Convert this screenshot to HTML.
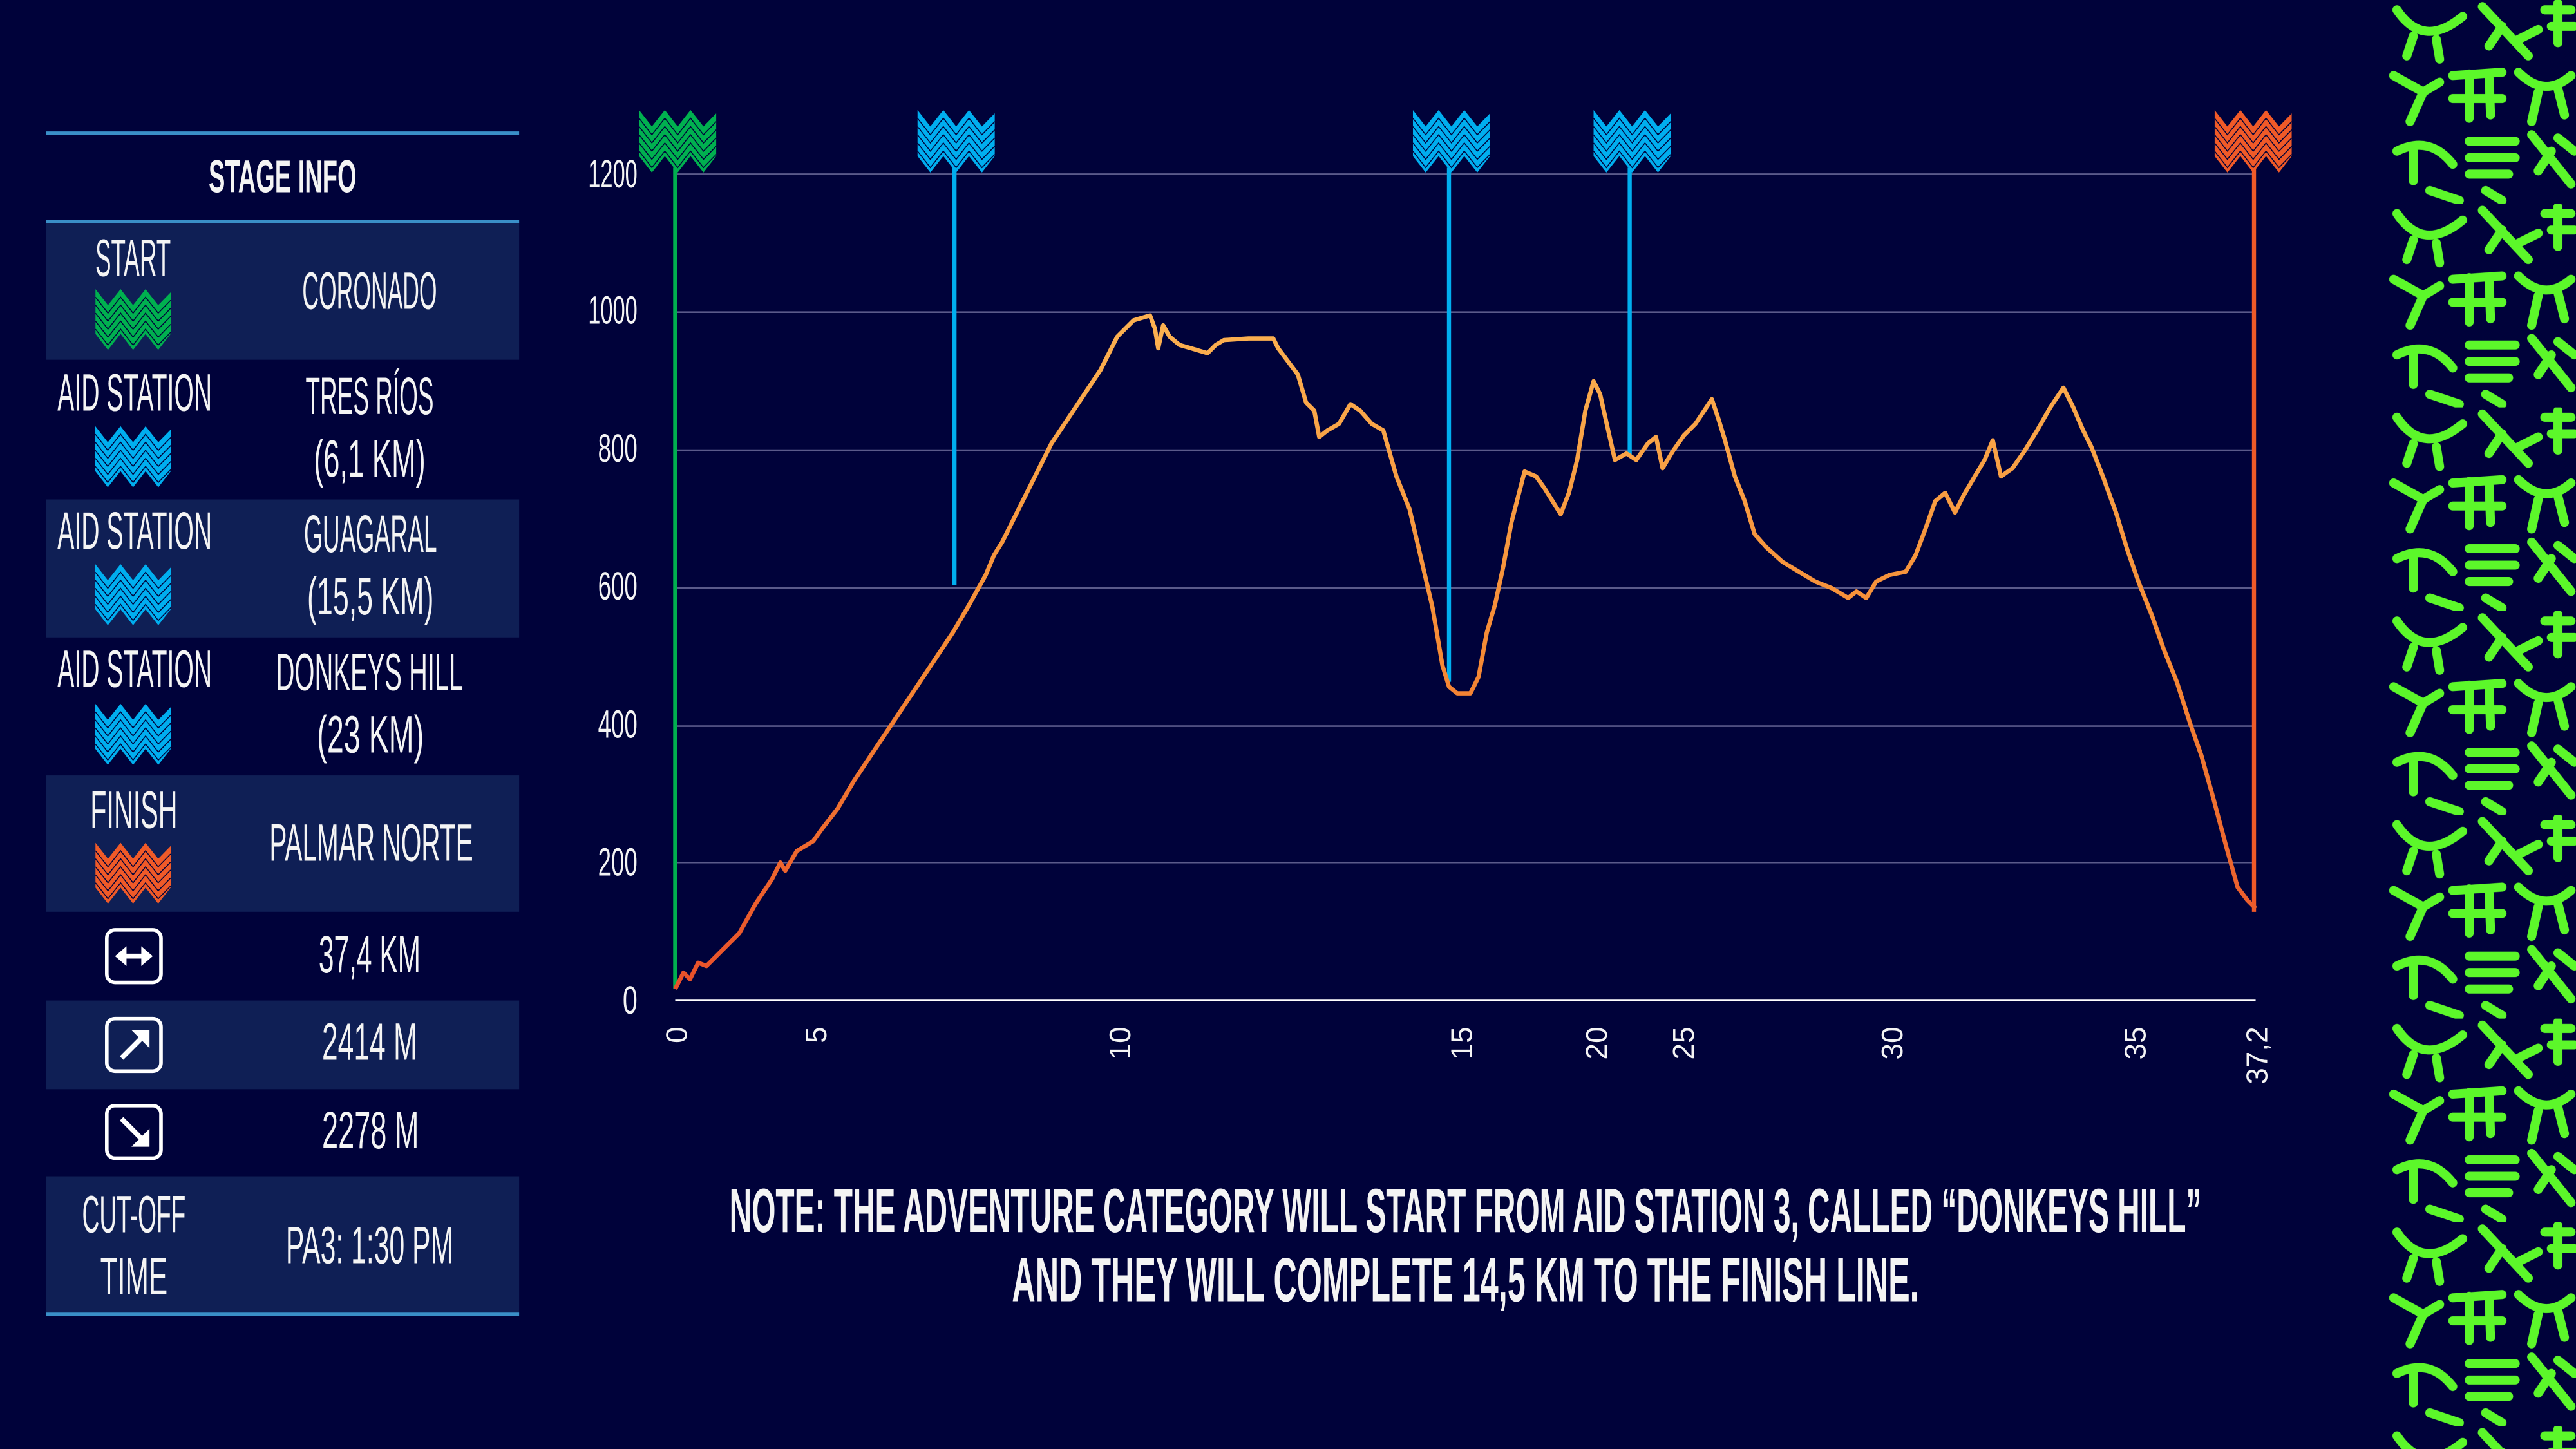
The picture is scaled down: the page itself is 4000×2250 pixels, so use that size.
<!DOCTYPE html>
<html><head><meta charset="utf-8"><style>
html,body{margin:0;padding:0;background:#00023a;overflow:hidden}
svg{display:block}
text{fill:#f4f4f4;font-family:"Liberation Sans",sans-serif}
</style></head><body>
<svg width="4000" height="2250" viewBox="0 0 1568 882" xmlns="http://www.w3.org/2000/svg">
<defs>
<symbol id="zz" viewBox="0 0 47 38">
<polygon points="0,0 7.8,10 15.7,0 23.5,10 31.3,0 39.2,10 47,2 47,28 39.2,38 31.3,28 23.5,38 15.7,28 7.8,38 0,28"/>
<g fill="none" stroke="#00023a" stroke-width="0.6">
<polyline points="0,5 7.8,15 15.7,5 23.5,15 31.3,5 39.2,15 47,7"/>
<polyline points="0,10 7.8,20 15.7,10 23.5,20 31.3,10 39.2,20 47,12"/>
<polyline points="0,15 7.8,25 15.7,15 23.5,25 31.3,15 39.2,25 47,17"/>
<polyline points="0,20 7.8,30 15.7,20 23.5,30 31.3,20 39.2,30 47,22"/>
<polyline points="0,25 7.8,35 15.7,25 23.5,35 31.3,25 39.2,35 47,27"/>
</g>
</symbol>
<linearGradient id="lg" gradientUnits="userSpaceOnUse" x1="0" y1="600" x2="0" y2="200">
<stop offset="0" stop-color="#e8502a"/><stop offset="0.5" stop-color="#f58a35"/><stop offset="1" stop-color="#fbb050"/>
</linearGradient>
<pattern id="gp" patternUnits="userSpaceOnUse" x="1453" y="0" width="116" height="124">
<g fill="none" stroke="#5cf72a" stroke-width="5.5" stroke-linecap="round">
<path d="M6,6 Q22,30 46,10 M16,22 L12,34 M30,24 L32,36"/>
<path d="M58,4 L86,34 M70,16 L62,28 M80,24 L92,18"/>
<path d="M96,6 L112,6 M100,16 L114,16 M104,2 L104,26"/>
<path d="M4,46 L22,56 L14,74 M22,56 L32,50"/>
<path d="M40,46 L70,44 M50,45 L50,72 M62,45 L63,70 M40,60 L70,60"/>
<path d="M80,44 Q96,60 112,46 M92,56 L88,74 M104,54 L108,70"/>
<path d="M6,92 Q26,82 40,100 M16,92 L16,110"/>
<path d="M50,86 L78,86 M50,96 L78,96 M50,106 L74,106"/>
<path d="M88,82 L112,112 M100,92 L92,104 M104,84 L114,92"/>
<path d="M26,116 L44,122 M60,116 L70,122"/>
</g>
</pattern>
</defs>
<rect width="1568" height="882" fill="#00023a"/>
<rect x="1453" y="0" width="115" height="882" fill="url(#gp)"/>

<g fill="#0f1f55">
<rect x="28" y="135" width="288" height="84"/>
<rect x="28" y="304" width="288" height="84"/>
<rect x="28" y="472" width="288" height="83"/>
<rect x="28" y="609" width="288" height="54"/>
<rect x="28" y="716" width="288" height="84"/>
</g>
<g stroke="#3a8fc8" stroke-width="2">
<line x1="28" y1="81" x2="316" y2="81"/><line x1="28" y1="135" x2="316" y2="135"/><line x1="28" y1="800" x2="316" y2="800"/>
</g>
<text x="127" y="117" font-size="28" font-weight="bold" textLength="90" lengthAdjust="spacingAndGlyphs">STAGE INFO</text>
<g font-size="32" transform="translate(0,-2)">
<text x="58" y="170" textLength="46" lengthAdjust="spacingAndGlyphs">START</text>
<text x="184" y="190" textLength="82" lengthAdjust="spacingAndGlyphs">CORONADO</text>
<text x="35" y="252" textLength="94" lengthAdjust="spacingAndGlyphs">AID STATION</text>
<text x="186" y="254" textLength="78" lengthAdjust="spacingAndGlyphs">TRES RÍOS</text>
<text x="191" y="292" textLength="68" lengthAdjust="spacingAndGlyphs">(6,1 KM)</text>
<text x="35" y="336" textLength="94" lengthAdjust="spacingAndGlyphs">AID STATION</text>
<text x="185" y="338" textLength="81" lengthAdjust="spacingAndGlyphs">GUAGARAL</text>
<text x="187" y="376" textLength="77" lengthAdjust="spacingAndGlyphs">(15,5 KM)</text>
<text x="35" y="420" textLength="94" lengthAdjust="spacingAndGlyphs">AID STATION</text>
<text x="168" y="422" textLength="114" lengthAdjust="spacingAndGlyphs">DONKEYS HILL</text>
<text x="193" y="460" textLength="65" lengthAdjust="spacingAndGlyphs">(23 KM)</text>
<text x="55" y="506" textLength="53" lengthAdjust="spacingAndGlyphs">FINISH</text>
<text x="164" y="526" textLength="124" lengthAdjust="spacingAndGlyphs">PALMAR NORTE</text>
<text x="194" y="594" textLength="62" lengthAdjust="spacingAndGlyphs">37,4 KM</text>
<text x="196" y="647" textLength="58" lengthAdjust="spacingAndGlyphs">2414 M</text>
<text x="196" y="701" textLength="59" lengthAdjust="spacingAndGlyphs">2278 M</text>
<text x="50" y="752" textLength="63" lengthAdjust="spacingAndGlyphs">CUT-OFF</text>
<text x="61" y="790" textLength="41" lengthAdjust="spacingAndGlyphs">TIME</text>
<text x="174" y="771" textLength="102" lengthAdjust="spacingAndGlyphs">PA3: 1:30 PM</text>
</g>
<use href="#zz" x="58" y="176" width="46" height="37" fill="#00b04f"/>
<use href="#zz" x="58" y="259" width="46" height="38" fill="#00aeef"/>
<use href="#zz" x="58" y="343" width="46" height="38" fill="#00aeef"/>
<use href="#zz" x="58" y="428" width="46" height="38" fill="#00aeef"/>
<use href="#zz" x="58" y="513" width="46" height="37" fill="#f05a28"/>
<g fill="none" stroke="#fff" stroke-width="2.2">
<rect x="65" y="566" width="33" height="32" rx="5"/>
<rect x="65" y="620" width="33" height="32" rx="5"/>
<rect x="65" y="673" width="33" height="32" rx="5"/>
<line x1="73" y1="582" x2="90" y2="582" stroke-width="3"/>
<line x1="74" y1="644" x2="88" y2="630" stroke-width="3"/>
<line x1="74" y1="681" x2="88" y2="695" stroke-width="3"/>
</g>
<g fill="#fff">
<polygon points="70,582 77,576 77,588"/><polygon points="93,582 86,576 86,588"/>
<polygon points="91,627 80,627 91,638"/><polygon points="91,698 80,698 91,687"/>
</g>

<g stroke="#5a5a8a" stroke-width="1">
<line x1="411" y1="106" x2="1373" y2="106"/><line x1="411" y1="190" x2="1373" y2="190"/>
<line x1="411" y1="274" x2="1373" y2="274"/><line x1="411" y1="358" x2="1373" y2="358"/>
<line x1="411" y1="442" x2="1373" y2="442"/><line x1="411" y1="525" x2="1373" y2="525"/>
</g>
<line x1="411" y1="609" x2="1373" y2="609" stroke="#fff" stroke-width="1"/>
<g font-size="24" text-anchor="end">
<text x="388" y="114" textLength="30" lengthAdjust="spacingAndGlyphs">1200</text>
<text x="388" y="197" textLength="30" lengthAdjust="spacingAndGlyphs">1000</text>
<text x="388" y="281" textLength="24" lengthAdjust="spacingAndGlyphs">800</text>
<text x="388" y="365" textLength="24" lengthAdjust="spacingAndGlyphs">600</text>
<text x="388" y="449" textLength="24" lengthAdjust="spacingAndGlyphs">400</text>
<text x="388" y="533" textLength="24" lengthAdjust="spacingAndGlyphs">200</text>
<text x="388" y="617" textLength="9" lengthAdjust="spacingAndGlyphs">0</text>
</g>
<g font-size="18" text-anchor="end" style="font-family:'Liberation Serif',serif">
<text transform="translate(418,625) rotate(-90)">0</text>
<text transform="translate(503,625) rotate(-90)">5</text>
<text transform="translate(688,625) rotate(-90)">10</text>
<text transform="translate(896,625) rotate(-90)">15</text>
<text transform="translate(978,625) rotate(-90)">20</text>
<text transform="translate(1031,625) rotate(-90)">25</text>
<text transform="translate(1158,625) rotate(-90)">30</text>
<text transform="translate(1306,625) rotate(-90)">35</text>
<text transform="translate(1380,625) rotate(-90)">37,2</text>
</g>
<g stroke-width="2.5">
<line x1="411" y1="102" x2="411" y2="602" stroke="#00b04f"/>
<line x1="581" y1="102" x2="581" y2="356" stroke="#00aeef"/>
<line x1="882" y1="102" x2="882" y2="415" stroke="#00aeef"/>
<line x1="992" y1="102" x2="992" y2="278" stroke="#00aeef"/>
<line x1="1372" y1="102" x2="1372" y2="555" stroke="#f05a28"/>
</g>
<use href="#zz" x="389" y="67" width="47" height="38" fill="#00b04f"/>
<use href="#zz" x="558" y="67" width="48" height="38" fill="#00aeef"/>
<use href="#zz" x="860" y="67" width="47" height="38" fill="#00aeef"/>
<use href="#zz" x="970" y="67" width="47" height="38" fill="#00aeef"/>
<use href="#zz" x="1348" y="67" width="47" height="38" fill="#f05a28"/>
<polyline fill="none" stroke="url(#lg)" stroke-width="2.6" stroke-linejoin="round" points="411,602 416,592 420,596 425,586 430,588 440,578 450,568 460,550 470,535 475,525 478,530 485,518 495,512 500,505 510,492 520,475 530,460 540,445 550,430 560,415 570,400 580,385 590,368 600,350 605,338 610,330 620,310 630,290 640,270 650,255 660,240 670,225 680,205 690,195 700,192 703,200 705,212 708,198 712,205 718,210 725,212 735,215 740,210 745,207 760,206 775,206 778,212 784,220 790,228 795,245 800,250 803,266 808,262 815,258 822,246 828,250 835,258 842,262 850,290 858,310 865,340 872,370 878,405 882,418 887,422 895,422 900,412 905,385 910,368 915,345 920,318 928,287 935,290 940,297 950,313 955,300 960,280 965,250 970,232 974,240 978,258 983,280 990,276 996,280 1003,270 1008,266 1012,285 1018,275 1025,265 1032,258 1042,243 1046,255 1050,268 1056,290 1062,305 1068,325 1075,333 1085,342 1095,348 1105,354 1115,358 1125,364 1130,360 1136,364 1142,354 1150,350 1160,348 1166,338 1172,322 1178,305 1184,300 1190,312 1195,302 1202,290 1208,280 1213,268 1218,290 1225,285 1232,275 1240,262 1248,248 1256,236 1262,248 1268,262 1273,272 1280,290 1288,312 1295,335 1302,355 1310,375 1317,395 1325,415 1333,440 1340,460 1347,485 1355,515 1362,540 1368,548 1373,553"/>
<g font-size="38" font-weight="bold">
<text x="444" y="750" textLength="896" lengthAdjust="spacingAndGlyphs">NOTE: THE ADVENTURE CATEGORY WILL START FROM AID STATION 3, CALLED “DONKEYS HILL”</text>
<text x="616" y="792" textLength="552" lengthAdjust="spacingAndGlyphs">AND THEY WILL COMPLETE 14,5 KM TO THE FINISH LINE.</text>
</g>
</svg>
</body></html>
